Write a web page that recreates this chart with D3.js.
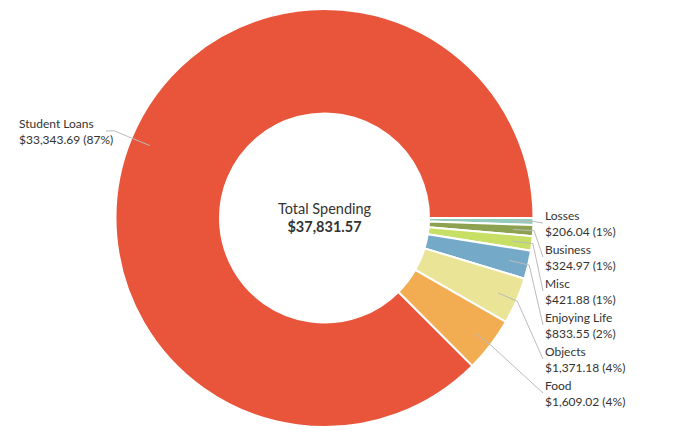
<!DOCTYPE html>
<html>
<head>
<meta charset="utf-8">
<script src="https://cdn.jsdelivr.net/npm/d3@7/dist/d3.min.js"></script>
<style>
  html, body { margin: 0; padding: 0; background: #fff; }
  svg { display: block; }
  text { font-family: Lato, "Noto Sans", sans-serif; fill: #333; }
</style>
</head>
<body>
<svg id="chart" width="683" height="433"></svg>
<script>
// ---- data ----
const categories = ["Losses", "Business", "Misc", "Enjoying Life", "Objects", "Food", "Student Loans"];
const values = [206.04, 324.97, 421.88, 833.55, 1371.18, 1609.02, 33343.69];
const amountLabels = ["$206.04", "$324.97", "$421.88", "$833.55", "$1,371.18", "$1,609.02", "$33,343.69"];
const percentLabels = ["1%", "1%", "1%", "2%", "4%", "4%", "87%"];
const colors = ["#93CBB8", "#8CA251", "#C6DF64", "#74A9C7", "#EAE496", "#F2AD52", "#E9553B"];
const centerTitle = "Total Spending";
const centerTotal = "$37,831.57";

// ---- layout ----
const W = 683, H = 433;
const cx = 324.5, cy = 218;
const R = 209, r0 = 104.5;

const svg = d3.select("#chart");
const g = svg.append("g").attr("transform", `translate(${cx},${cy})`);

const data = categories.map((c, i) => ({ name: c, value: values[i], amount: amountLabels[i], pct: percentLabels[i], color: colors[i] }));

const pie = d3.pie().sort(null).value(d => d.value)
  .startAngle(Math.PI / 2).endAngle(Math.PI / 2 + 2 * Math.PI);
const arcs = pie(data);

const arc = d3.arc().innerRadius(r0).outerRadius(R);

g.selectAll("path.slice").data(arcs).enter().append("path")
  .attr("class", "slice")
  .attr("d", arc)
  .attr("fill", d => d.data.color)
  .attr("stroke", "#fff")
  .attr("stroke-width", 2)
  .attr("stroke-linejoin", "round");

// label positions
function pt(a, rad) { return [Math.sin(a) * rad, -Math.cos(a) * rad]; }

const rightX = 545 - cx;
const rightBase0 = 220 - cy;
const rightStep = 34;
const leftX = 19 - cx;
const leftBase = 128 - cy;

let ri = 0;
arcs.forEach(d => {
  const mid = (d.startAngle + d.endAngle) / 2;
  const isRight = Math.sin(mid) > 0;
  let lx, ly, anchorX, elbowR;
  if (isRight) {
    lx = rightX; ly = rightBase0 + rightStep * ri; ri++;
    anchorX = lx - 2; elbowR = R + 1;
  } else {
    lx = leftX; ly = leftBase;
    anchorX = 106 - cx; elbowR = R * 1.09;
  }
  const p1 = pt(mid, R * 0.905);
  const p2 = pt(mid, elbowR);
  const p3 = [anchorX, ly + 3];
  g.append("polyline")
    .attr("points", [p1, p2, p3].map(p => p.join(",")).join(" "))
    .attr("fill", "none")
    .attr("stroke", "#bbb")
    .attr("stroke-width", 1);
  const t = g.append("text").attr("x", lx).attr("y", ly).attr("font-size", 12);
  t.append("tspan").attr("x", lx).attr("y", ly).text(d.data.name);
  t.append("tspan").attr("x", lx).attr("y", ly + 16).text(`${d.data.amount} (${d.data.pct})`);
});

// center text
g.append("text").attr("text-anchor", "middle").attr("x", 0).attr("y", 213.5 - cy)
  .attr("font-size", 14.5).text(centerTitle);
g.append("text").attr("text-anchor", "middle").attr("x", 0).attr("y", 231.5 - cy)
  .attr("font-size", 14.5).attr("font-weight", "bold").text(centerTotal);
</script>
</body>
</html>
